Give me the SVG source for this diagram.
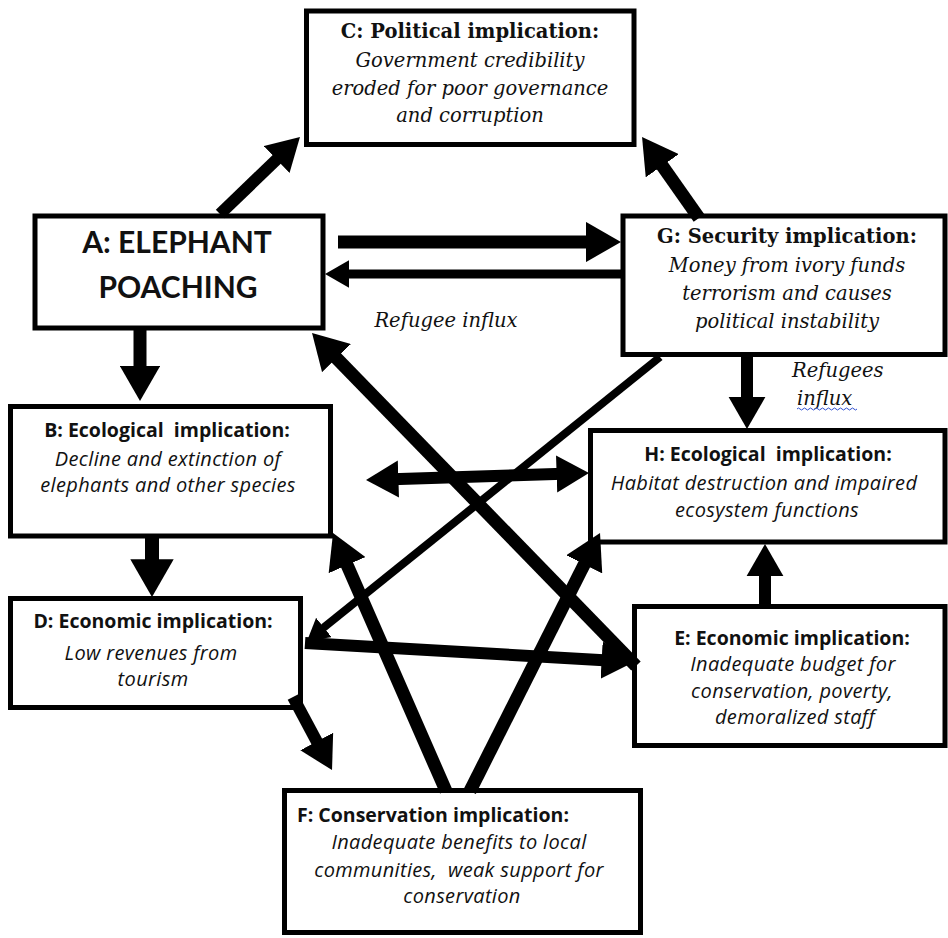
<svg xmlns="http://www.w3.org/2000/svg" width="948" height="938" viewBox="0 0 948 938">
<style>
.box{fill:#fff;stroke:#000;stroke-width:5}
.ts{font-family:"Open Sans","Liberation Sans",sans-serif;font-weight:bold;font-size:19.5px;fill:#111;text-anchor:middle;white-space:pre}
.bs{font-family:"Open Sans","Liberation Sans",sans-serif;font-style:italic;font-size:20px;letter-spacing:0.35px;fill:#111;text-anchor:middle;white-space:pre}
.tr{font-family:"DejaVu Serif","Liberation Serif",serif;font-weight:bold;font-size:19.5px;fill:#111;text-anchor:middle}
.br{font-family:"DejaVu Serif","Liberation Serif",serif;font-style:italic;font-size:19.5px;fill:#111;text-anchor:middle}
.big{font-family:Lato,"Liberation Sans",sans-serif;font-weight:bold;font-size:30px;fill:#111;text-anchor:middle}
.ar{fill:none;stroke:#000;stroke-linecap:butt;marker-end:url(#ah)}
</style>
<defs>
<marker id="ah" viewBox="0 0 10 10" refX="2" refY="5" markerWidth="2.7" markerHeight="3.1" orient="auto-start-reverse" markerUnits="strokeWidth" preserveAspectRatio="none">
<path d="M0,0 L10,5 L0,10 z" fill="#000"/>
</marker>
</defs>
<rect width="948" height="938" fill="#fff"/>

<g id="nodeC">
<rect class="box" x="306.5" y="11" width="327.5" height="133.5"/>
<text class="tr" x="470" y="38">C: Political implication:</text>
<text class="br" x="470" y="67">Government credibility</text>
<text class="br" x="470" y="95">eroded for poor governance</text>
<text class="br" x="470" y="122">and corruption</text>
</g>

<g id="nodeA">
<rect class="box" x="35" y="216" width="288" height="112"/>
<text class="big" x="177" y="253">A: ELEPHANT</text>
<text class="big" x="178" y="298">POACHING</text>
</g>

<g id="nodeG">
<rect class="box" x="623" y="216" width="322" height="138.5"/>
<text class="tr" x="787" y="243">G: Security implication:</text>
<text class="br" x="787" y="272">Money from ivory funds</text>
<text class="br" x="787" y="300">terrorism and causes</text>
<text class="br" x="787" y="328">political instability</text>
</g>

<g id="nodeB">
<rect class="box" x="10.5" y="406.5" width="320" height="129.5"/>
<text class="ts" x="167" y="437" xml:space="preserve">B: Ecological  implication:</text>
<text class="bs" x="168" y="466">Decline and extinction of</text>
<text class="bs" x="168" y="492">elephants and other species</text>
</g>

<g id="nodeH">
<rect class="box" x="590.5" y="430.5" width="354.5" height="111.5"/>
<text class="ts" x="768" y="461" xml:space="preserve">H: Ecological  implication:</text>
<text class="bs" x="764" y="490">Habitat destruction and impaired</text>
<text class="bs" x="767" y="517">ecosystem functions</text>
</g>

<g id="nodeD">
<rect class="box" x="10.5" y="598.5" width="290" height="109"/>
<text class="ts" x="153" y="628">D: Economic implication:</text>
<text class="bs" x="151" y="660">Low revenues from</text>
<text class="bs" x="153" y="686">tourism</text>
</g>

<g id="nodeE">
<rect class="box" x="634.5" y="606.5" width="310.5" height="139"/>
<text class="ts" x="792" y="645">E: Economic implication:</text>
<text class="bs" x="793" y="671">Inadequate budget for</text>
<text class="bs" x="792" y="697.5">conservation, poverty,</text>
<text class="bs" x="795" y="724">demoralized staff</text>
</g>

<g id="nodeF">
<rect class="box" x="284.5" y="790.5" width="356" height="142"/>
<text class="ts" x="297" y="822" style="text-anchor:start">F: Conservation implication:</text>
<text class="bs" x="459" y="849">Inadequate benefits to local</text>
<text class="bs" x="459" y="877" xml:space="preserve">communities,  weak support for</text>
<text class="bs" x="462" y="903">conservation</text>
</g>

<g id="labels">
<text class="br" x="446" y="327">Refugee influx</text>
<text class="br" x="792" y="377" style="text-anchor:start">Refugees</text>
<text class="br" x="797" y="405" style="text-anchor:start">influx</text>
<path d="M797,409 q1.5,-2 3,0 t3,0 t3,0 t3,0 t3,0 t3,0 t3,0 t3,0 t3,0 t3,0 t3,0 t3,0 t3,0 t3,0 t3,0 t3,0 t3,0 t3,0 t3,0 t3,0" fill="none" stroke="#3050d0" stroke-width="1"/>
</g>

<g id="connectors">
<line class="ar" stroke-width="12" x1="220" y1="214" x2="281.3" y2="155"/>
<line class="ar" stroke-width="13" x1="338" y1="242" x2="592.9" y2="242"/>
<line class="ar" stroke-width="9" x1="623" y1="274" x2="344.4" y2="274"/>
<line class="ar" stroke-width="13" x1="699" y1="218" x2="658.2" y2="160"/>
<line class="ar" stroke-width="13" x1="140" y1="330" x2="140" y2="372.9"/>
<line class="ar" stroke-width="14" x1="152" y1="537" x2="152" y2="566.8"/>
<line class="ar" stroke-width="12" x1="293" y1="697" x2="319.8" y2="747.2"/>
<line class="ar" stroke-width="13" x1="446" y1="791" x2="344.3" y2="558.7"/>
<line class="ar" stroke-width="13" x1="470" y1="791" x2="587.4" y2="558.1"/>
<line class="ar" stroke-width="12" x1="391.9" y1="479.2" x2="563.1" y2="473.8" style="marker-start:url(#ah)"/>
<line class="ar" stroke-width="8" x1="660" y1="357" x2="320.5" y2="630.2"/>
<line class="ar" stroke-width="13" x1="636" y1="666" x2="331.6" y2="353.1"/>
<line class="ar" stroke-width="12" x1="305" y1="643" x2="608.1" y2="660.5"/>
<line class="ar" stroke-width="12" x1="765" y1="606" x2="765" y2="569.9"/>
<line class="ar" stroke-width="12" x1="747" y1="357" x2="747" y2="403.1"/>
</g>
</svg>
